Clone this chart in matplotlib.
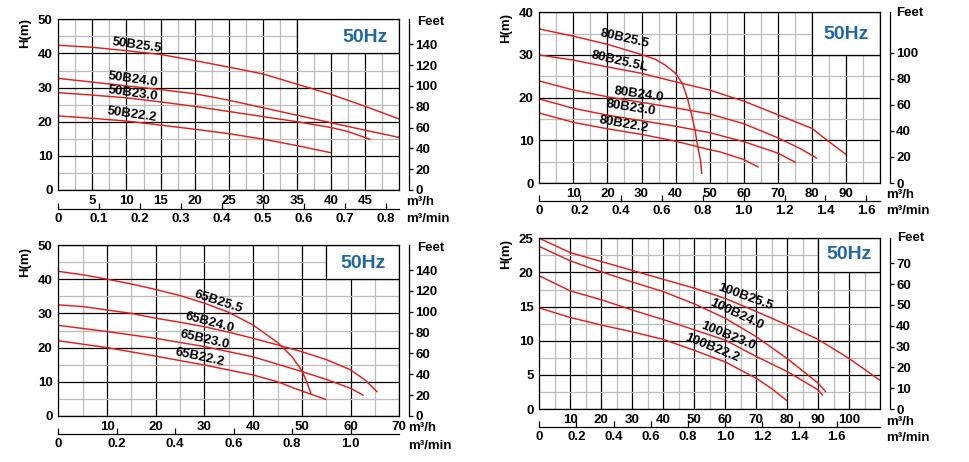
import numpy as np
import matplotlib
matplotlib.use('Agg')
import matplotlib.pyplot as plt
from matplotlib.ticker import MultipleLocator
from matplotlib.patches import Rectangle

plt.rcParams['font.family'] = ['Liberation Sans', 'DejaVu Sans']
plt.rcParams['font.weight'] = 'bold'

M_TO_FT = 3.28084

# ---------------- DATA ----------------
# Panel 1 (50B series)
p1_names = ['50B25.5', '50B24.0', '50B23.0', '50B22.2']
p1_q_255 = [0, 5, 10, 15, 20, 25, 30, 35, 40, 45, 50]
p1_h_255 = [42.4, 41.8, 40.8, 39.7, 37.9, 36.0, 34.0, 31.0, 28.0, 24.5, 20.8]
p1_q_240 = [0, 5, 10, 15, 20, 25, 30, 35, 40, 45, 50]
p1_h_240 = [32.7, 31.6, 30.5, 29.4, 28.2, 26.3, 24.1, 21.9, 19.7, 17.5, 15.4]
p1_q_230 = [0, 5, 10, 15, 20, 25, 30, 35, 40, 42.5, 45.8]
p1_h_230 = [28.5, 27.8, 27.0, 25.8, 24.5, 23.0, 21.5, 20.0, 18.3, 17.1, 14.8]
p1_q_222 = [0, 5, 10, 15, 20, 25, 30, 35, 40]
p1_h_222 = [21.7, 21.0, 20.2, 19.0, 17.8, 16.5, 14.9, 13.0, 10.9]
p1_xticks = [5, 10, 15, 20, 25, 30, 35, 40, 45]
p1_yticks = [0, 10, 20, 30, 40, 50]
p1_min_ticks = [0, 0.1, 0.2, 0.3, 0.4, 0.5, 0.6, 0.7, 0.8]
p1_min_labels = ['0', '0.1', '0.2', '0.3', '0.4', '0.5', '0.6', '0.7', '0.8']
p1_feet_ticks = [0, 20, 40, 60, 80, 100, 120, 140]

# Panel 2 (80B series)
p2_names = ['80B25.5', '80B25.5L', '80B24.0', '80B23.0', '80B22.2']
p2_q_255 = [0, 10, 20, 30, 34, 37, 40, 42, 43.5, 44.7, 45.7, 46.6, 47.3, 47.7]
p2_h_255 = [36.1, 34.4, 32.5, 30.1, 29.0, 27.6, 25.7, 23.3, 19.8, 16.0, 12.4, 8.1, 5.4, 2.1]
p2_q_255L = [0, 10, 20, 30, 40, 50, 56, 60, 70, 80, 85, 90]
p2_h_255L = [30.0, 28.8, 27.2, 25.7, 23.7, 21.8, 20.2, 19.2, 16.0, 12.8, 9.7, 6.7]
p2_q_240 = [0, 10, 20, 30, 40, 50, 60, 70, 76.5, 81.5]
p2_h_240 = [23.9, 21.8, 20.2, 18.9, 17.6, 16.2, 13.9, 10.6, 8.1, 5.8]
p2_q_230 = [0, 10, 20, 30, 40, 50, 60, 70, 75.3]
p2_h_230 = [19.7, 17.5, 15.9, 14.6, 13.3, 11.8, 9.7, 7.0, 4.8]
p2_q_222 = [0, 10, 20, 30, 40, 50, 53, 60, 64.4]
p2_h_222 = [16.4, 14.2, 12.7, 11.4, 9.8, 7.8, 7.3, 5.5, 3.7]
p2_xticks = [10, 20, 30, 40, 50, 60, 70, 80, 90]
p2_yticks = [0, 10, 20, 30, 40]
p2_min_ticks = [0, 0.2, 0.4, 0.6, 0.8, 1.0, 1.2, 1.4, 1.6]
p2_min_labels = ['0', '0.2', '0.4', '0.6', '0.8', '1.0', '1.2', '1.4', '1.6']
p2_feet_ticks = [0, 20, 40, 60, 80, 100]

# Panel 3 (65B series)
p3_names = ['65B25.5', '65B24.0', '65B23.0', '65B22.2']
p3_q_255 = [0, 5, 10, 15, 20, 25, 30, 35, 40, 45, 48, 50, 51, 51.9]
p3_h_255 = [42.3, 41.3, 40.0, 38.6, 37.0, 35.2, 33.0, 30.3, 26.6, 21.5, 17.3, 13.2, 10.0, 6.5]
p3_q_240 = [0, 5, 10, 15, 20, 25, 30, 35, 40, 45, 50, 55, 60, 63, 65.5]
p3_h_240 = [32.5, 32.0, 31.0, 30.0, 28.6, 27.4, 26.1, 24.5, 22.7, 20.8, 18.8, 16.5, 13.5, 10.5, 7.0]
p3_q_230 = [0, 10, 20, 30, 40, 50, 55, 60, 62.7]
p3_h_230 = [26.5, 24.7, 22.7, 20.3, 17.3, 13.0, 10.7, 8.1, 6.0]
p3_q_222 = [0, 10, 20, 30, 40, 45, 50, 55]
p3_h_222 = [22.0, 20.0, 17.5, 14.9, 12.0, 10.0, 7.3, 4.8]
p3_xticks = [10, 20, 30, 40, 50, 60, 70]
p3_yticks = [0, 10, 20, 30, 40, 50]
p3_min_ticks = [0, 0.2, 0.4, 0.6, 0.8, 1.0]
p3_min_labels = ['0', '0.2', '0.4', '0.6', '0.8', '1.0']
p3_feet_ticks = [0, 20, 40, 60, 80, 100, 120, 140]

# Panel 4 (100B series)
p4_names = ['100B25.5', '100B24.0', '100B23.0', '100B22.2']
p4_q_255 = [0, 10, 20, 30, 40, 50, 60, 70, 80, 90, 100, 110]
p4_h_255 = [25.0, 22.9, 21.6, 20.3, 19.0, 17.7, 16.2, 14.3, 12.3, 10.2, 7.4, 4.2]
p4_q_240 = [0, 10, 20, 30, 40, 50, 60, 70, 80, 90, 92.5]
p4_h_240 = [23.8, 21.7, 20.1, 18.6, 17.2, 15.4, 13.3, 10.6, 7.4, 3.8, 2.5]
p4_q_230 = [0, 10, 20, 30, 40, 50, 60, 70, 80, 90, 91.5]
p4_h_230 = [19.5, 17.3, 16.0, 14.5, 13.1, 11.6, 10.1, 7.7, 5.5, 2.8, 2.0]
p4_q_222 = [0, 10, 20, 30, 40, 50, 60, 70, 75, 80]
p4_h_222 = [14.8, 13.4, 12.3, 11.3, 10.2, 8.6, 6.9, 4.5, 3.0, 1.2]
p4_xticks = [10, 20, 30, 40, 50, 60, 70, 80, 90, 100]
p4_yticks = [0, 5, 10, 15, 20, 25]
p4_min_ticks = [0, 0.2, 0.4, 0.6, 0.8, 1.0, 1.2, 1.4, 1.6]
p4_min_labels = ['0', '0.2', '0.4', '0.6', '0.8', '1.0', '1.2', '1.4', '1.6']
p4_feet_ticks = [0, 10, 20, 30, 40, 50, 60, 70]

freq_label = '50Hz'

# ---------------- STYLE / LAYOUT ----------------
RED = '#e41e1e'
BLUE = '#1f67a0'
W, H = 970, 462
TICK_FS = 9.5

fig = plt.figure(figsize=(W / 100, H / 100), dpi=100)


def rect_px(left, top, right, bottom):
    return [left / W, 1 - bottom / H, (right - left) / W, (bottom - top) / H]


def panel(rect, xlim, ylim, xticks, yticks, xminor, yminor,
          min_ticks, min_labels, feet_ticks, curves, labels, box, hzpos,
          secoff, ylab_pos, feet_pos, unit_pos):
    ax = fig.add_axes(rect)
    ax.set_xlim(*xlim)
    ax.set_ylim(*ylim)
    ax.set_xticks(xticks)
    ax.set_yticks(yticks)
    ax.xaxis.set_minor_locator(MultipleLocator(xminor))
    ax.yaxis.set_minor_locator(MultipleLocator(yminor))
    ax.set_axisbelow(True)
    ax.grid(which='major', color='black', lw=0.9)
    ax.grid(which='minor', color='#bcbcbc', lw=0.9)
    ax.tick_params(which='both', length=0)
    ax.tick_params(axis='x', pad=3.5, labelsize=TICK_FS)
    ax.tick_params(axis='y', pad=4, labelsize=TICK_FS)
    for s in ax.spines.values():
        s.set_linewidth(0.9)

    # white frequency box
    ax.add_patch(Rectangle((box[0], box[1]), box[2] - box[0], box[3] - box[1],
                           facecolor='white', edgecolor='black', lw=0.9, zorder=1))
    ax.text(hzpos[0], hzpos[1], freq_label, color=BLUE, fontsize=14,
            fontweight='bold', ha='center', va='center', zorder=3)

    for (q, h) in curves:
        ax.plot(q, h, color=RED, lw=1.05, zorder=2, solid_joinstyle='round',
                solid_capstyle='butt')
    for (name, (x, y, rot)) in labels:
        ax.text(x, y, name, rotation=rot, rotation_mode='anchor', ha='center',
                va='center', fontsize=9.5, fontweight='bold', zorder=3)

    # m3/min secondary axis
    secx = ax.secondary_xaxis(-secoff, functions=(lambda x: x / 60.0,
                                                  lambda x: x * 60.0))
    secx.set_xticks(min_ticks, labels=min_labels)
    secx.tick_params(direction='in', length=4, width=0.9, labelsize=TICK_FS, pad=3)
    for s in secx.spines.values():
        s.set_linewidth(0.9)

    # Feet secondary axis
    secy = ax.secondary_yaxis(1.029, functions=(lambda m: m * M_TO_FT,
                                                lambda f: f / M_TO_FT))
    secy.set_yticks(feet_ticks)
    secy.tick_params(direction='out', length=3, width=0.9, labelsize=TICK_FS, pad=1.5)
    for s in secy.spines.values():
        s.set_linewidth(0.9)

    ax.text(ylab_pos[0], ylab_pos[1], 'H(m)', rotation=90, transform=ax.transAxes,
            ha='center', va='center', fontsize=9.5)
    ax.text(feet_pos[0], feet_pos[1], 'Feet', transform=ax.transAxes,
            ha='left', va='center', fontsize=9.5)
    ax.text(unit_pos[0], unit_pos[1], 'm³/h', transform=ax.transAxes,
            ha='left', va='center', fontsize=9.5)
    ax.text(unit_pos[0], unit_pos[2], 'm³/min', transform=ax.transAxes,
            ha='left', va='center', fontsize=9.5)
    return ax


# Panel 1
panel(rect_px(58.3, 19.3, 399.3, 190), (0, 50), (0, 50), p1_xticks, p1_yticks, 2.5, 5,
      p1_min_ticks, p1_min_labels, p1_feet_ticks,
      [(p1_q_255, p1_h_255), (p1_q_240, p1_h_240), (p1_q_230, p1_h_230), (p1_q_222, p1_h_222)],
      list(zip(p1_names, [(11.5, 42.3, -8), (11.0, 32.4, -8), (11.0, 28.2, -8), (10.8, 22.0, -8)])),
      (35, 40, 50, 50), (45, 44.8), 0.111,
      (-0.098, 0.92), (1.052, 0.985), (1.02, -0.07, -0.168))

# Panel 2
panel(rect_px(539.3, 12.3, 880, 183), (0, 100), (0, 40), p2_xticks, p2_yticks, 5, 5,
      p2_min_ticks, p2_min_labels, p2_feet_ticks,
      [(p2_q_255, p2_h_255), (p2_q_255L, p2_h_255L), (p2_q_240, p2_h_240),
       (p2_q_230, p2_h_230), (p2_q_222, p2_h_222)],
      list(zip(p2_names, [(25.1, 33.8, -13), (23.5, 28.4, -13), (29.2, 20.7, -8),
                          (26.9, 17.6, -9), (24.8, 13.7, -10)])),
      (80, 30, 100, 40), (90, 34.8), 0.105,
      (-0.096, 0.906), (1.048, 0.994), (1.017, -0.072, -0.166))

# Panel 3
panel(rect_px(58.3, 245, 399.3, 416), (0, 70), (0, 50), p3_xticks, p3_yticks, 5, 5,
      p3_min_ticks, p3_min_labels, p3_feet_ticks,
      [(p3_q_255, p3_h_255), (p3_q_240, p3_h_240), (p3_q_230, p3_h_230), (p3_q_222, p3_h_222)],
      list(zip(p3_names, [(32.8, 33.4, -18), (31.1, 27.3, -15), (30.1, 22.2, -13),
                          (29.1, 17.2, -12)])),
      (55, 40, 70, 50), (62.5, 44.7), 0.105,
      (-0.098, 0.90), (1.052, 0.98), (1.027, -0.072, -0.175))

# Panel 4
panel(rect_px(539.3, 238.3, 880, 409), (0, 110), (0, 25), p4_xticks, p4_yticks, 5, 2.5,
      p4_min_ticks, p4_min_labels, p4_feet_ticks,
      [(p4_q_255, p4_h_255), (p4_q_240, p4_h_240), (p4_q_230, p4_h_230), (p4_q_222, p4_h_222)],
      list(zip(p4_names, [(66.4, 16.4, -20), (63.7, 13.8, -25), (61.0, 10.7, -22),
                          (55.6, 8.9, -22)])),
      (90, 20, 110, 25), (100, 22.6), 0.104,
      (-0.096, 0.91), (1.05, 1.0), (1.017, -0.078, -0.17))

fig.savefig('out.png', dpi=100)
